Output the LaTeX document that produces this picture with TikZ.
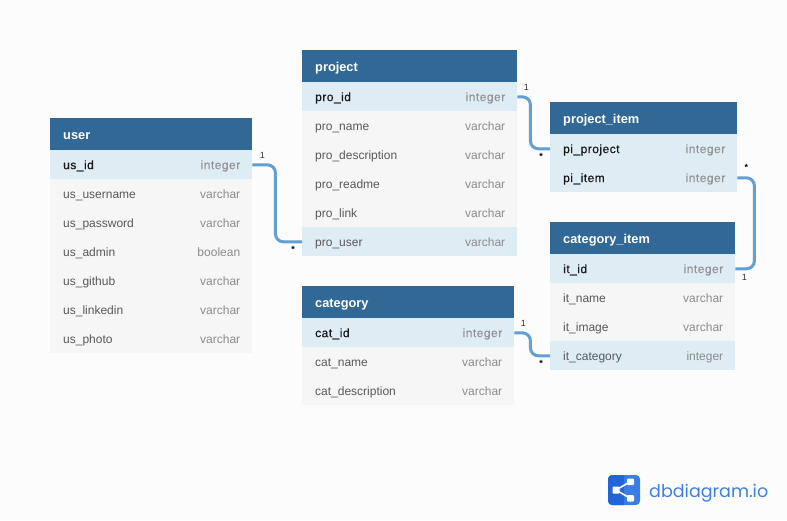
\documentclass[tikz,border=0pt]{standalone}
\usepackage{fontspec}
\setmainfont{Liberation Sans}
\newfontfamily\keyfont[FakeBold=0.4,LetterSpace=4]{Liberation Sans}
\newfontfamily\logofont{Poppins}
\usetikzlibrary{calc}

\definecolor{headblue}{HTML}{316896}
\definecolor{keyblue}{HTML}{DEECF4}
\definecolor{rowgray}{HTML}{F6F6F6}
\definecolor{pagegray}{HTML}{FCFCFC}
\definecolor{linkblue}{HTML}{639FD2}
\definecolor{logoblue}{HTML}{3A7EE4}
\definecolor{logodark}{HTML}{2265D8}
\definecolor{logotext}{HTML}{3F80DC}

\tikzset{
  tablehead/.style={rectangle,fill=headblue,minimum height=32,inner sep=0,anchor=north west},
  headtext/.style={anchor=base west,inner sep=0,text=white,font=\fontsize{12.8}{14}\bfseries},
  rowbox/.style={rectangle,minimum height=29,inner sep=0,anchor=north west},
  key/.style={rowbox,fill=keyblue},
  plain/.style={rowbox,fill=rowgray},
  link/.style={rowbox,fill=keyblue},
  nametext/.style={anchor=base west,inner sep=0,font=\fontsize{12}{14}\selectfont},
  typetext/.style={anchor=base east,inner sep=0,font=\fontsize{12}{14}\selectfont},
  relation/.style={draw=linkblue,line width=3,rounded corners=8},
  card/.style={inner sep=0,font=\fontsize{9}{10}\selectfont,text=black!80},
  cardmany/.style={card,font=\fontsize{9}{10}\bfseries,text=black}
}

% #1 name, #2 position, #3 width, #4 title, #5 rows
\newcommand{\dbtable}[5]{
  \draw node [tablehead,minimum width=#3] (#1) at (#2) {};
  \draw node [headtext] (#1-title) at ($ (#1.west) + (13,5) $) {#4};
  \foreach \rowname/\rowtype/\rowkind [count=\i] in {#5} {
    \draw node [\rowkind,minimum width=#3] (#1-\i) at ($ (#1.south west) + (0,{29*(\i-1)-0.3}) $) {};
    \ifnum\pdfstrcmp{\rowkind}{key}=0
      \draw node [nametext,text=black!90] (#1-\i-name) at ($ (#1-\i.west) + (13,4.3) $) {\keyfont\rowname};
      \draw node [typetext,text=black!42] (#1-\i-type) at ($ (#1-\i.east) + (-12,4.3) $) {\keyfont\rowtype};
    \else
      \draw node [nametext,text=black!65] (#1-\i-name) at ($ (#1-\i.west) + (13,4.3) $) {\rowname};
      \draw node [typetext,text=black!45] (#1-\i-type) at ($ (#1-\i.east) + (-12,4.3) $) {\rowtype};
    \fi
  }
}

\begin{document}
\begin{tikzpicture}[x=1pt,y=-1pt]
\useasboundingbox [fill=pagegray] (0,0) rectangle (787,520);

\dbtable{user}{50,118}{202}{user}{us\_id/integer/key,us\_username/varchar/plain,us\_password/varchar/plain,us\_admin/boolean/plain,us\_github/varchar/plain,us\_linkedin/varchar/plain,us\_photo/varchar/plain}
\dbtable{project}{302,50}{215}{project}{pro\_id/integer/key,pro\_name/varchar/plain,pro\_description/varchar/plain,pro\_readme/varchar/plain,pro\_link/varchar/plain,pro\_user/varchar/link}
\dbtable{category}{302,286}{212}{category}{cat\_id/integer/key,cat\_name/varchar/plain,cat\_description/varchar/plain}
\dbtable{projectitem}{550,102}{187}{project\_item}{pi\_project/integer/key,pi\_item/integer/key}
\dbtable{categoryitem}{550,222}{185}{category\_item}{it\_id/integer/key,it\_name/varchar/plain,it\_image/varchar/plain,it\_category/integer/link}

% relations
\draw [relation] (user-1.east) -- ++(23,0) |- (project-6.west);
\draw [relation] (project-1.east) -- ++(13,0) |- (projectitem-1.west);
\draw [relation] (category-1.east) -- ++(16,0) |- (categoryitem-4.west);
\draw [relation] (projectitem-2.east) -- ++(17,0) |- (categoryitem-1.east);

\draw node [card] (user-one) at ($ (user-1.east) + (10,-9) $) {1};
\draw node [cardmany] (project-many) at ($ (project-6.west) + (-9,8) $) {*};
\draw node [card] (project-one) at ($ (project-1.east) + (9,-9) $) {1};
\draw node [cardmany] (projectitem-many) at ($ (projectitem-1.west) + (-9,8) $) {*};
\draw node [card] (category-one) at ($ (category-1.east) + (9,-9) $) {1};
\draw node [cardmany] (categoryitem-many) at ($ (categoryitem-4.west) + (-9,8) $) {*};
\draw node [cardmany] (pitem-many) at ($ (projectitem-2.east) + (9,-10) $) {*};
\draw node [card] (item-one) at ($ (categoryitem-1.east) + (9,9) $) {1};

% logo
\fill [logoblue,rounded corners=4] (608,475) rectangle (640,505);
\fill [logodark,rounded corners=4] (624,475) -- (608,475) -- (608,505) [sharp corners] -- (624,505) -- cycle;
\draw [white,line width=1.6] (630.5,481.5) -- (616,490) -- (630.5,498.5);
\fill [white,rounded corners=1] (612.5,486.5) rectangle (619.5,493.5) (627,478.5) rectangle (634,485) (627,495) rectangle (634,501.5);
\draw node [anchor=base west,inner sep=0,text=logotext,font=\fontsize{17.5}{22}\logofont] (logo) at (649,497) {dbdiagram.io};
\end{tikzpicture}
\end{document}
